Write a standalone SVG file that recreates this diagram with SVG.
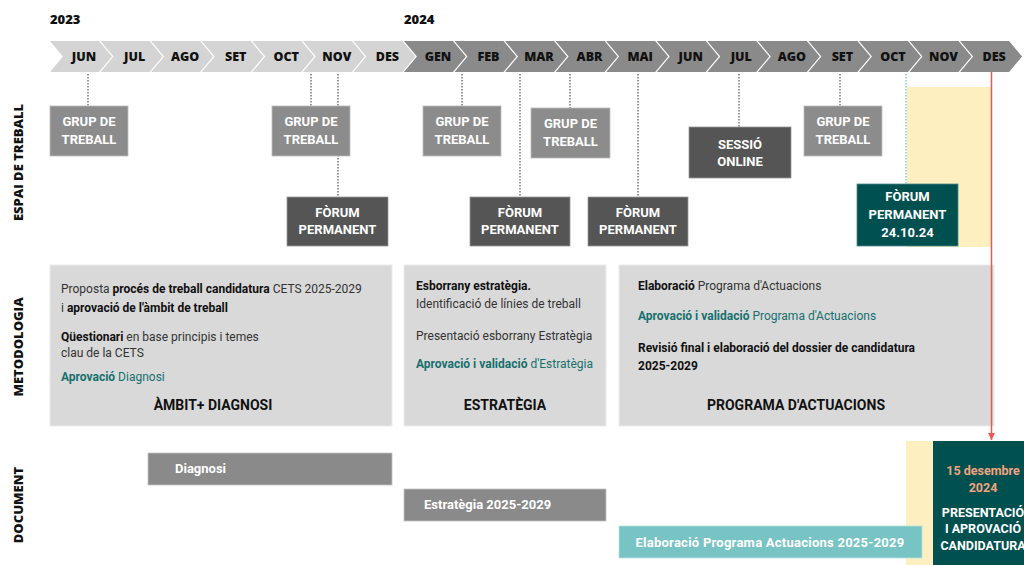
<svg xmlns="http://www.w3.org/2000/svg" width="1024" height="565" viewBox="0 0 1024 565">
<style>
.yr{font-family:"Open Sans","DejaVu Sans",sans-serif;font-weight:800;font-size:13px;fill:#111}
.mo{font-family:"Open Sans","DejaVu Sans",sans-serif;font-weight:800;font-size:12.5px;fill:#111;text-anchor:middle}
.sec{font-family:"Open Sans","DejaVu Sans",sans-serif;font-weight:800;font-size:13px;fill:#111;text-anchor:middle}
.c1{fill:#d4d4d4}
.c2{fill:#8a8a8a}
.gb{fill:#8c8c8c;stroke:#bdbdbd;stroke-width:0.8}
.db{fill:#555555;stroke:#9a9a9a;stroke-width:0.8}
.tb{fill:#00504f;stroke:#4d8a89;stroke-width:0.8}
.bl{font-family:Roboto,"Liberation Sans",sans-serif;font-weight:700;font-size:13px;fill:#fff;text-anchor:middle}
.mb{fill:#d9d9d9;stroke:#ececec;stroke-width:1}
.mt{font-family:Roboto,"Liberation Sans",sans-serif;font-size:12px;fill:#333}
.b{font-weight:700;fill:#111}
.tl{fill:#17706e}
.tlb{fill:#17706e;font-weight:700}
.ttl{font-family:Roboto,"Liberation Sans",sans-serif;font-weight:700;font-size:14px;fill:#111;text-anchor:middle}
.dt{font-family:Roboto,"Liberation Sans",sans-serif;font-weight:700;font-size:13px;fill:#fff}
.dot{stroke:#555;stroke-width:1.2;stroke-dasharray:1.5 1.5;fill:none}
.dotT{stroke:#6cc4c4;stroke-width:1.2;stroke-dasharray:1.5 1.5;fill:none}
.fin{font-family:Roboto,"Liberation Sans",sans-serif;font-weight:700;font-size:12.5px;text-anchor:middle}
</style>
<defs>
<polygon id="chev" points="0,41 49,41 62,56.5 49,72 0,72 13,56.5"/>
<marker id="arr" viewBox="0 0 10 10" refX="10" refY="5" markerWidth="5" markerHeight="5" orient="auto">
<path d="M0,0 L10,5 L0,10 z" fill="#f05555"/>
</marker>
</defs>
<rect width="1024" height="565" fill="#fff"/>

<g id="years">
<text class="yr" x="50" y="24">2023</text>
<text class="yr" x="404" y="24">2024</text>
</g>

<g id="timeline">
<use href="#chev" x="50" class="c1"/>
<use href="#chev" x="100.56" class="c1"/>
<use href="#chev" x="151.12" class="c1"/>
<use href="#chev" x="201.68" class="c1"/>
<use href="#chev" x="252.24" class="c1"/>
<use href="#chev" x="302.8" class="c1"/>
<use href="#chev" x="353.36" class="c1"/>
<use href="#chev" x="403.92" class="c2"/>
<use href="#chev" x="454.48" class="c2"/>
<use href="#chev" x="505.04" class="c2"/>
<use href="#chev" x="555.6" class="c2"/>
<use href="#chev" x="606.16" class="c2"/>
<use href="#chev" x="656.72" class="c2"/>
<use href="#chev" x="707.28" class="c2"/>
<use href="#chev" x="757.84" class="c2"/>
<use href="#chev" x="808.4" class="c2"/>
<use href="#chev" x="858.96" class="c2"/>
<use href="#chev" x="909.52" class="c2"/>
<use href="#chev" x="960.08" class="c2"/>
<text class="mo" x="84" y="61">JUN</text>
<text class="mo" x="134.6" y="61">JUL</text>
<text class="mo" x="185.1" y="61">AGO</text>
<text class="mo" x="235.7" y="61">SET</text>
<text class="mo" x="286.2" y="61">OCT</text>
<text class="mo" x="336.8" y="61">NOV</text>
<text class="mo" x="387.4" y="61">DES</text>
<text class="mo" x="437.9" y="61">GEN</text>
<text class="mo" x="488.5" y="61">FEB</text>
<text class="mo" x="539" y="61">MAR</text>
<text class="mo" x="589.6" y="61">ABR</text>
<text class="mo" x="640.2" y="61">MAI</text>
<text class="mo" x="690.7" y="61">JUN</text>
<text class="mo" x="741.3" y="61">JUL</text>
<text class="mo" x="791.8" y="61">AGO</text>
<text class="mo" x="842.4" y="61">SET</text>
<text class="mo" x="893" y="61">OCT</text>
<text class="mo" x="943.5" y="61">NOV</text>
<text class="mo" x="994.1" y="61">DES</text>
</g>

<g id="sections">
<text class="sec" transform="translate(23,162.5) rotate(-90)">ESPAI DE TREBALL</text>
<text class="sec" transform="translate(23,347) rotate(-90)">METODOLOGIA</text>
<text class="sec" transform="translate(23,505) rotate(-90)">DOCUMENT</text>
</g>

<g id="highlight">
<rect x="907" y="87" width="85" height="160" fill="#fdefc0"/>
<rect x="906" y="441" width="40" height="124" fill="#fdefc0"/>
</g>

<g id="connectors">
<line class="dot" x1="88" y1="74" x2="88" y2="106"/>
<line class="dot" x1="311" y1="74" x2="311" y2="106"/>
<line class="dot" x1="338" y1="74" x2="338" y2="197"/>
<line class="dot" x1="462" y1="74" x2="462" y2="106"/>
<line class="dot" x1="520" y1="74" x2="520" y2="197"/>
<line class="dot" x1="570" y1="74" x2="570" y2="108"/>
<line class="dot" x1="638" y1="74" x2="638" y2="197"/>
<line class="dot" x1="739" y1="74" x2="739" y2="127"/>
<line class="dot" x1="840" y1="74" x2="840" y2="106"/>
<line class="dotT" x1="906" y1="74" x2="906" y2="184"/>
</g>

<g id="grup1"><rect class="gb" x="50" y="106" width="78" height="50"/><text class="bl" x="89" y="126">GRUP DE</text><text class="bl" x="89" y="144">TREBALL</text></g>
<g id="grup2"><rect class="gb" x="272" y="106" width="78" height="50"/><text class="bl" x="311" y="126">GRUP DE</text><text class="bl" x="311" y="144">TREBALL</text></g>
<g id="forum1"><rect class="db" x="287" y="197" width="101" height="49"/><text class="bl" x="337.5" y="216.5">FÒRUM</text><text class="bl" x="337.5" y="234">PERMANENT</text></g>
<g id="grup3"><rect class="gb" x="423" y="106" width="78" height="50"/><text class="bl" x="462" y="126">GRUP DE</text><text class="bl" x="462" y="144">TREBALL</text></g>
<g id="forum2"><rect class="db" x="470" y="197" width="100" height="49"/><text class="bl" x="520" y="216.5">FÒRUM</text><text class="bl" x="520" y="234">PERMANENT</text></g>
<g id="grup4"><rect class="gb" x="531" y="108" width="79" height="50"/><text class="bl" x="570.5" y="128">GRUP DE</text><text class="bl" x="570.5" y="146">TREBALL</text></g>
<g id="forum3"><rect class="db" x="588" y="197" width="100" height="49"/><text class="bl" x="638" y="216.5">FÒRUM</text><text class="bl" x="638" y="234">PERMANENT</text></g>
<g id="sessio"><rect class="db" x="689" y="127" width="102" height="51"/><text class="bl" x="740" y="148.5">SESSIÓ</text><text class="bl" x="740" y="166">ONLINE</text></g>
<g id="grup5"><rect class="gb" x="804" y="106" width="78" height="50"/><text class="bl" x="843" y="126">GRUP DE</text><text class="bl" x="843" y="144">TREBALL</text></g>
<g id="forum4"><rect class="tb" x="857" y="184" width="101" height="62"/><text class="bl" x="907.5" y="200.5">FÒRUM</text><text class="bl" x="907.5" y="218.5">PERMANENT</text><text class="bl" x="907.5" y="236.5">24.10.24</text></g>

<g id="met1">
<rect class="mb" x="50" y="265" width="342" height="161"/>
<text class="mt" x="61" y="293">Proposta <tspan class="b">procés de treball candidatura</tspan> CETS 2025-2029</text>
<text class="mt" x="61" y="312">i <tspan class="b">aprovació de l'àmbit de treball</tspan></text>
<text class="mt" x="61" y="341"><tspan class="b">Qüestionari</tspan> en base principis i temes</text>
<text class="mt" x="61" y="357">clau de la CETS</text>
<text class="mt" x="61" y="381"><tspan class="tlb">Aprovació</tspan><tspan class="tl"> Diagnosi</tspan></text>
<text class="ttl" x="213" y="410">ÀMBIT+ DIAGNOSI</text>
</g>
<g id="met2">
<rect class="mb" x="404" y="265" width="202" height="161"/>
<text class="mt" x="416" y="290"><tspan class="b">Esborrany estratègia.</tspan></text>
<text class="mt" x="416" y="308">Identificació de línies de treball</text>
<text class="mt" x="416" y="340">Presentació esborrany Estratègia</text>
<text class="mt" x="416" y="368"><tspan class="tlb">Aprovació i validació</tspan><tspan class="tl"> d'Estratègia</tspan></text>
<text class="ttl" x="505" y="410">ESTRATÈGIA</text>
</g>
<g id="met3">
<rect class="mb" x="619" y="265" width="375" height="161"/>
<text class="mt" x="638" y="290"><tspan class="b">Elaboració</tspan> Programa d'Actuacions</text>
<text class="mt" x="638" y="320"><tspan class="tlb">Aprovació i validació</tspan><tspan class="tl"> Programa d'Actuacions</tspan></text>
<text class="mt" x="638" y="352"><tspan class="b">Revisió final i elaboració del dossier de candidatura</tspan></text>
<text class="mt" x="638" y="370"><tspan class="b">2025-2029</tspan></text>
<text class="ttl" x="796" y="410">PROGRAMA D'ACTUACIONS</text>
</g>

<g id="doc1"><rect x="148" y="453" width="244" height="32" fill="#8a8a8a" stroke="#c4c4c4" stroke-width="0.8"/><text class="dt" x="175" y="473">Diagnosi</text></g>
<g id="doc2"><rect x="404" y="489" width="202" height="32" fill="#8a8a8a" stroke="#c4c4c4" stroke-width="0.8"/><text class="dt" x="424" y="509">Estratègia 2025-2029</text></g>
<g id="doc3"><rect x="619" y="526" width="303" height="32" fill="#78c3c4" stroke="#b8e0e0" stroke-width="0.8"/><text class="dt" x="770" y="546.5" text-anchor="middle" letter-spacing="0.25">Elaboració Programa Actuacions 2025-2029</text></g>

<g id="final">
<rect x="933" y="441" width="95" height="126" fill="#00504f"/>
<text class="fin" x="983" y="475" fill="#f2a27e">15 desembre</text>
<text class="fin" x="983" y="492" fill="#f2a27e">2024</text>
<text class="fin" x="983" y="517" fill="#fff">PRESENTACIÓ</text>
<text class="fin" x="983" y="533" fill="#fff">I APROVACIÓ</text>
<text class="fin" x="983" y="550" fill="#fff">CANDIDATURA</text>
</g>

<g id="deadline">
<line x1="991.5" y1="72" x2="991.5" y2="440" stroke="#f05555" stroke-width="1.5" marker-end="url(#arr)"/>
</g>
</svg>
